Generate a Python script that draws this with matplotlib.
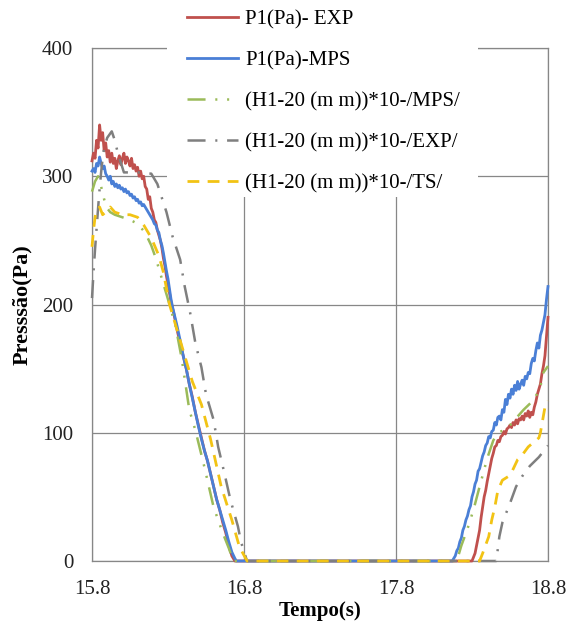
import matplotlib
matplotlib.use("Agg")
import matplotlib.pyplot as plt
from matplotlib.patches import Rectangle

plt.rcParams['font.family'] = ['Liberation Serif', 'DejaVu Serif']
plt.rcParams['lines.scale_dashes'] = False

# ---- data -----------------------------------------------------------------
t_p1_exp = [15.80, 15.81, 15.82, 15.83, 15.84, 15.85, 15.86, 15.87, 15.88, 15.89,
            15.90, 15.91, 15.92, 15.93, 15.94, 15.95, 15.96, 15.97, 15.98, 15.99,
            16.00, 16.01, 16.02, 16.03, 16.04, 16.05, 16.06, 16.07, 16.08, 16.09,
            16.10, 16.11, 16.12, 16.13, 16.14, 16.15, 16.16, 16.17, 16.18, 16.19,
            16.20, 16.21, 16.22, 16.23, 16.24, 16.25, 16.26, 16.27, 16.28, 16.29,
            16.30, 16.32, 16.34, 16.36, 16.38, 16.40, 16.42, 16.44, 16.46, 16.48,
            16.50, 16.52, 16.54, 16.56, 16.58, 16.60, 16.62, 16.64, 16.66, 16.68,
            16.70, 16.72, 16.74, 18.30, 18.32, 18.34, 18.35, 18.36, 18.37, 18.38,
            18.39, 18.40, 18.41, 18.42, 18.43, 18.44, 18.45, 18.46, 18.47, 18.48,
            18.49, 18.50, 18.51, 18.52, 18.53, 18.54, 18.55, 18.56, 18.57, 18.58,
            18.59, 18.60, 18.61, 18.62, 18.63, 18.64, 18.65, 18.66, 18.67, 18.68,
            18.69, 18.70, 18.71, 18.72, 18.73, 18.74, 18.75, 18.76, 18.77, 18.78,
            18.79, 18.80]
p1_exp = [312, 318, 314, 328, 322, 340, 328, 334, 320, 326,
          315, 320, 311, 318, 310, 314, 306, 312, 316, 309,
          314, 318, 310, 315, 312, 308, 314, 306, 309, 304,
          307, 300, 304, 298, 300, 292, 290, 282, 284, 275,
          272, 266, 264, 258, 254, 250, 244, 236, 230, 222,
          216, 202, 192, 180, 170, 160, 150, 138, 128, 116,
          106, 96, 86, 78, 68, 58, 48, 40, 30, 22,
          12, 4, 0, 0, 6, 18, 24, 34, 42, 50,
          55, 62, 68, 74, 80, 84, 89, 90, 94, 93,
          97, 98, 101, 99, 103, 104, 106, 104, 108, 106,
          110, 107, 111, 110, 113, 110, 115, 113, 117, 112,
          116, 114, 120, 124, 130, 134, 138, 146, 152, 160,
          175, 190]

t_p1_mps = [15.80, 15.81, 15.82, 15.83, 15.84, 15.85, 15.86, 15.87, 15.88, 15.89,
            15.90, 15.91, 15.92, 15.93, 15.94, 15.95, 15.96, 15.97, 15.98, 15.99,
            16.00, 16.01, 16.02, 16.03, 16.04, 16.05, 16.06, 16.07, 16.08, 16.09,
            16.10, 16.11, 16.12, 16.13, 16.14, 16.15, 16.16, 16.17, 16.18, 16.19,
            16.20, 16.21, 16.22, 16.23, 16.24, 16.25, 16.26, 16.27, 16.28, 16.29,
            16.30, 16.31, 16.32, 16.33, 16.34, 16.36, 16.38, 16.40, 16.42, 16.44,
            16.46, 16.48, 16.50, 16.52, 16.54, 16.56, 16.58, 16.60, 16.62, 16.64,
            16.66, 16.68, 16.70, 16.72, 16.74, 16.75, 18.17, 18.19, 18.20, 18.21,
            18.22, 18.23, 18.24, 18.25, 18.26, 18.27, 18.28, 18.29, 18.30, 18.31,
            18.32, 18.33, 18.34, 18.35, 18.36, 18.37, 18.38, 18.39, 18.40, 18.41,
            18.42, 18.43, 18.44, 18.45, 18.46, 18.47, 18.48, 18.49, 18.50, 18.51,
            18.52, 18.53, 18.54, 18.55, 18.56, 18.57, 18.58, 18.59, 18.60, 18.61,
            18.62, 18.63, 18.64, 18.65, 18.66, 18.67, 18.68, 18.69, 18.70, 18.71,
            18.72, 18.73, 18.74, 18.75, 18.76, 18.77, 18.78, 18.79, 18.80]
p1_mps = [304, 306, 303, 310, 308, 315, 310, 306, 308, 302,
          300, 297, 300, 294, 296, 292, 294, 291, 293, 290,
          291, 288, 290, 287, 288, 285, 286, 283, 284, 281,
          282, 279, 280, 277, 278, 276, 274, 272, 270, 268,
          266, 263, 262, 258, 256, 250, 246, 240, 233, 226,
          220, 212, 204, 198, 193, 183, 172, 160, 150, 138,
          127, 116, 105, 95, 86, 78, 68, 58, 48, 40,
          32, 24, 15, 7, 2, 0, 0, 4, 8, 10,
          15, 18, 24, 27, 32, 35, 40, 43, 50, 54,
          60, 63, 70, 72, 77, 82, 85, 90, 92, 97,
          96, 101, 102, 108, 106, 112, 113, 110, 118, 116,
          126, 122, 130, 127, 134, 130, 137, 133, 140, 134,
          138, 141, 137, 144, 142, 147, 146, 154, 158, 156,
          164, 170, 166, 176, 180, 186, 192, 204, 214]

t_h_mps = [15.80, 15.82, 15.84, 15.86, 15.88, 15.90, 15.92, 15.95, 16.00, 16.05,
           16.10, 16.15, 16.19, 16.22, 16.26, 16.30, 16.35, 16.39, 16.44, 16.48,
           16.54, 16.60, 16.66, 16.70, 16.73, 18.20, 18.23, 18.27, 18.31, 18.35,
           18.40, 18.44, 18.47, 18.53, 18.58, 18.64, 18.71, 18.75, 18.77, 18.80]
h_mps = [288, 296, 300, 292, 282, 275, 272, 270, 268, 266,
         263, 256, 246, 236, 220, 204, 183, 158, 118, 102,
         73, 42, 22, 10, 0, 0, 12, 25, 40, 58,
         80, 94, 100, 103, 110, 118, 126, 136, 147, 152]

t_h_exp = [15.80, 15.81, 15.82, 15.83, 15.84, 15.85, 15.86, 15.87, 15.88, 15.90,
           15.93, 15.95, 15.97, 16.01, 16.10, 16.19, 16.23, 16.29, 16.33,
           16.38, 16.41, 16.445, 16.48, 16.52, 16.55, 16.60, 16.63, 16.67, 16.71,
           16.76, 16.78, 16.82, 18.46, 18.48, 18.50, 18.55, 18.59, 18.63, 18.68,
           18.74, 18.80]
h_exp = [205, 225, 243, 259, 275, 290, 303, 314, 322, 330,
         335, 328, 318, 303, 303, 302, 294, 272, 253,
         235, 214, 194, 170, 151, 130, 110, 89, 69, 48,
         27, 15, 0, 0, 19, 30, 45, 58, 66, 74,
         81, 90]

t_h_ts = [15.80, 15.81, 15.82, 15.83, 15.85, 15.87, 15.89, 15.92, 15.95, 16.00,
          16.05, 16.10, 16.14, 16.19, 16.24, 16.27, 16.31, 16.36, 16.41, 16.46,
          16.52, 16.58, 16.65, 16.72, 16.77, 16.82, 18.35, 18.37, 18.41, 18.43,
          18.45, 18.47, 18.50, 18.54, 18.56, 18.60, 18.62, 18.67, 18.74, 18.75,
          18.78, 18.80]
h_ts = [245, 258, 268, 274, 276, 270, 272, 276, 272, 270,
        270, 268, 262, 252, 238, 225, 200, 180, 160, 140,
        122, 95, 58, 32, 11, 0, 0, 6, 19, 32,
        42, 55, 63, 66, 69, 79, 81, 89, 96, 100,
        120, 125]

labels = ["P1(Pa)- EXP", "P1(Pa)-MPS", "(H1-20 (m m))*10-/MPS/",
          "(H1-20 (m m))*10-/EXP/", "(H1-20 (m m))*10-/TS/"]
x_ticks = [15.8, 16.8, 17.8, 18.8]
y_ticks = [0, 100, 200, 300, 400]

# ---- figure ---------------------------------------------------------------
W, H = 568, 639
fig = plt.figure(figsize=(W / 100, H / 100), dpi=100)
ax = fig.add_axes([92 / W, 1 - 561 / H, 456 / W, 513 / H])

grid_c = '#878787'
series = [
    (t_p1_exp, p1_exp, dict(color='#C0504D', lw=2.0, ls='-')),
    (t_p1_mps, p1_mps, dict(color='#4A7FD6', lw=2.0, ls='-')),
    (t_h_mps, h_mps, dict(color='#9BBB59', lw=1.8, dashes=(13, 7, 1.5, 7, 1.5, 7))),
    (t_h_exp, h_exp, dict(color='#7F7F7F', lw=1.8, dashes=(13, 7, 1.5, 7))),
    (t_h_ts, h_ts, dict(color='#F2C314', lw=2.0, dashes=(8.5, 6))),
]
handles = []
for (t, v, st), lab in zip(series, labels):
    ln, = ax.plot(t, v, label=lab, clip_on=False, zorder=3, **st)
    handles.append(ln)

ax.set_xlim(15.8, 18.8)
ax.set_ylim(0, 400)
ax.set_xticks(x_ticks)
ax.set_xticklabels([f"{x:.1f}" for x in x_ticks])
ax.set_yticks(y_ticks)
ax.grid(True, color=grid_c, lw=0.9)
ax.set_axisbelow(True)
for s in ax.spines.values():
    s.set_color(grid_c)
    s.set_linewidth(0.9)
ax.spines['top'].set_zorder(0.6)
ax.tick_params(length=0, labelsize=15, colors='#222222')
ax.tick_params(axis='y', pad=13.5)
ax.tick_params(axis='x', pad=14)

ax.set_xlabel("Tempo(s)", fontsize=15, fontweight='bold', labelpad=1)
ax.set_ylabel("Presssão(Pa)", fontsize=16, fontweight='bold', labelpad=7)

# white panel behind the legend, hiding the grid under it
ax.add_patch(Rectangle((167 / W, 1 - 197 / H), (478 - 167) / W, 197 / H,
                       transform=fig.transFigure, facecolor='white',
                       edgecolor='none', zorder=2, clip_on=False))

leg = ax.legend(handles=handles, loc='upper left',
                bbox_to_anchor=(187 / W, 1 - 10 / H), bbox_transform=fig.transFigure,
                frameon=False, fontsize=15, borderpad=0, labelspacing=1.03,
                handlelength=2.45, handletextpad=0.35, borderaxespad=0)
leg.set_zorder(5)

fig.savefig("out.png", dpi=100, facecolor='white')
